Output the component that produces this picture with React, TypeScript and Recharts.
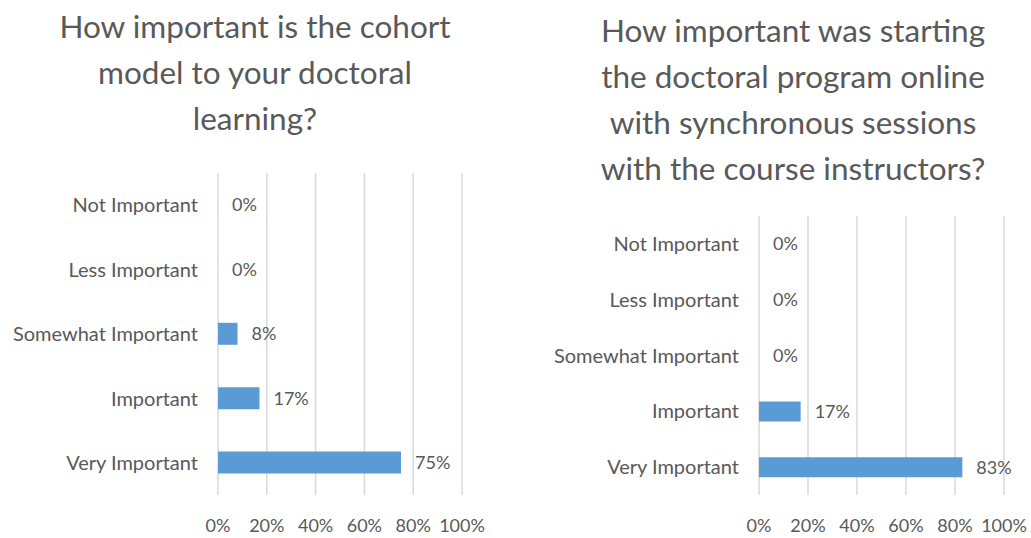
import { BarChart, Bar, XAxis, YAxis, CartesianGrid, LabelList } from "recharts";

const categories = ["Not Important", "Less Important", "Somewhat Important", "Important", "Very Important"];
const cohortValues = [0, 0, 8, 17, 75];
const onlineValues = [0, 0, 0, 17, 83];
const percentTicks = [0, 20, 40, 60, 80, 100];

const cohortTitle = ["How important is the cohort", "model to your doctoral", "learning?"];
const onlineTitle = [
  "How important was starting",
  "the doctoral program online",
  "with synchronous sessions",
  "with the course instructors?",
];

const FONT = "Lato, 'Open Sans', sans-serif";
const TEXT = "#595959";
const BLUE = "#5b9bd5";
const GRID = "#d9d9d9";

function Title({ lines, left, top, width }: { lines: string[]; left: number; top: number; width: number }) {
  return (
    <div
      style={{
        position: "absolute",
        left,
        top,
        width,
        textAlign: "center",
        fontFamily: FONT,
        fontSize: 31.5,
        fontWeight: 400,
        lineHeight: "46px",
        color: TEXT,
        whiteSpace: "nowrap",
      }}
    >
      {lines.map((l, i) => (
        <div key={i}>{l}</div>
      ))}
    </div>
  );
}

interface PanelProps {
  values: number[];
  left: number;
  width: number;
  top: number;
  axisWidth: number;
  right: number;
  barSize: number;
}

function Panel({ values, left, width, top, axisWidth, right, barSize }: PanelProps) {
  const data = categories.map((c, i) => ({ category: c, value: values[i] }));
  return (
    <div style={{ position: "absolute", left, top: 0 }}>
      <BarChart
        layout="vertical"
        width={width}
        height={538}
        data={data}
        margin={{ top, right, bottom: 13, left: 0 }}
      >
        <CartesianGrid horizontal={false} stroke={GRID} strokeWidth={1.5} />
        <XAxis
          type="number"
          domain={[0, 100]}
          ticks={percentTicks}
          tickFormatter={(v: number) => `${v}%`}
          axisLine={false}
          tickLine={false}
          tickMargin={18}
          height={30}
          tick={{ fontSize: 18, fill: TEXT, fontFamily: FONT }}
          interval={0}
        />
        <YAxis
          type="category"
          dataKey="category"
          width={axisWidth}
          axisLine={false}
          tickLine={false}
          tickMargin={14}
          tick={{ fontSize: 20, fill: TEXT, fontFamily: FONT }}
          interval={0}
        />
        <Bar dataKey="value" fill={BLUE} barSize={barSize} minPointSize={0.01} isAnimationActive={false}>
          <LabelList
            dataKey="value"
            position="right"
            offset={14}
            formatter={(v: number) => `${v}%`}
            style={{ fontSize: 18, fill: TEXT, fontFamily: FONT }}
          />
        </Bar>
      </BarChart>
    </div>
  );
}

export default function App() {
  return (
    <div style={{ position: "absolute", left: 0, top: 0, width: 1031, height: 538, background: "#fff", overflow: "hidden" }}>
      <Title lines={cohortTitle} left={55} top={3} width={400} />
      <Title lines={onlineTitle} left={593} top={7} width={400} />
      <Panel values={cohortValues} left={0} width={490} top={173} axisWidth={218} right={28} barSize={22} />
      <Panel values={onlineValues} left={540} width={491} top={216} axisWidth={219} right={27} barSize={20} />
    </div>
  );
}
